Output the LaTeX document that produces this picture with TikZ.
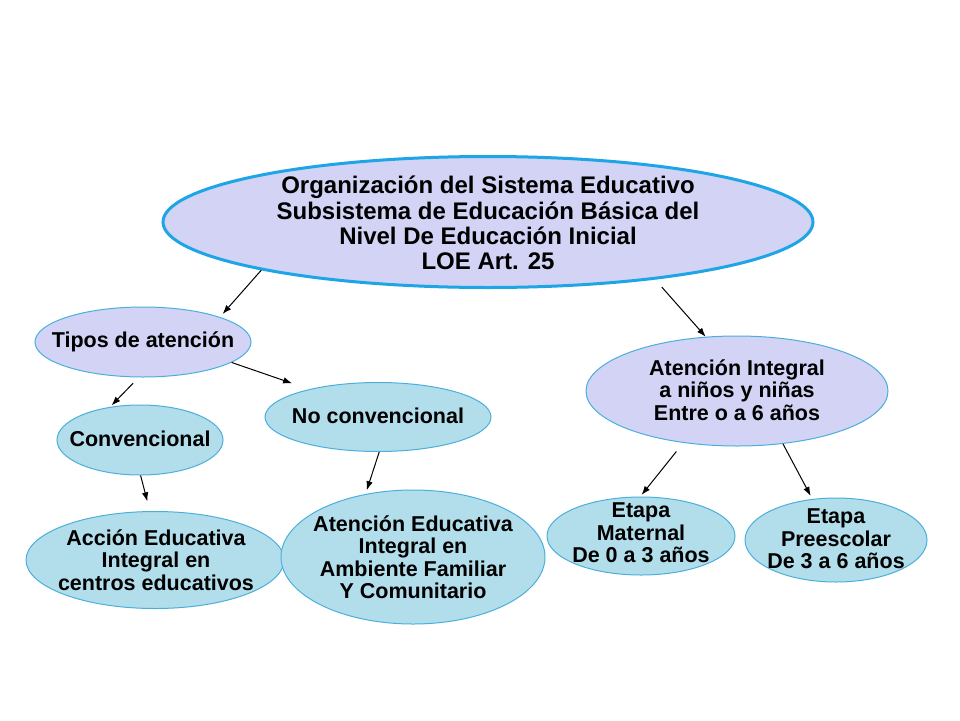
\documentclass[tikz,border=0pt]{standalone}
\usepackage{fontspec}
\setmainfont{Liberation Sans}
\usetikzlibrary{shapes.geometric,arrows.meta}
\definecolor{lav}{RGB}{210,211,245}
\definecolor{aqua}{RGB}{178,222,235}
\definecolor{bordA}{RGB}{30,165,230}
\definecolor{bordB}{RGB}{75,175,220}
\tikzset{
  ov/.style={ellipse,inner sep=0pt,draw=bordB,line width=1pt},
  lavov/.style={ov,fill=lav},
  aquaov/.style={ov,fill=aqua},
  txt/.style={inner sep=0pt,align=center,font=\bfseries\fontsize{21.5}{22.5}\selectfont},
  arr/.style={draw=black,line width=1pt,-{Latex[length=9pt,width=6.5pt]}}
}
\begin{document}
\begin{tikzpicture}[x=1pt,y=-1pt]
\fill[white] (0,0) rectangle (960,720);
\useasboundingbox (0,0) rectangle (960,720);

\node[lavov,draw=bordA,line width=3pt,minimum width=650pt,minimum height=131pt] (top) at (488,222) {};
\node[txt,font=\bfseries\fontsize{24}{25.3}\selectfont] (topT) at (488,223)
  {Organización del Sistema Educativo\\Subsistema de Educación Básica del\\Nivel De Educación Inicial\\LOE Art. 25};

\node[lavov,minimum width=216pt,minimum height=70pt] (tipos) at (143,342) {};
\node[txt] (tiposT) at (143,342) {Tipos de atención};

\node[aquaov,minimum width=166pt,minimum height=70pt] (conv) at (140,440) {};
\node[txt] (convT) at (140,439) {Convencional};

\node[aquaov,minimum width=226pt,minimum height=69pt] (noconv) at (378,417) {};
\node[txt] (noconvT) at (378,416) {No convencional};

\node[aquaov,minimum width=258pt,minimum height=97pt] (accion) at (155,560) {};
\node[txt] (accionT) at (156,560) {Acción Educativa\\Integral en\\centros educativos};

\node[aquaov,minimum width=264pt,minimum height=134pt] (atedu) at (413,557) {};
\node[txt] (ateduT) at (413,557) {Atención Educativa\\Integral en\\Ambiente Familiar\\Y Comunitario};

\node[lavov,minimum width=302pt,minimum height=110pt] (atint) at (737,391) {};
\node[txt] (atintT) at (737,390) {Atención Integral\\a niños y niñas\\Entre o a 6 años};

\node[aquaov,minimum width=188pt,minimum height=78pt] (mat) at (641,536) {};
\node[txt] (matT) at (641,533) {Etapa\\Maternal\\De 0 a 3 años};

\node[aquaov,minimum width=182pt,minimum height=84pt] (pre) at (836,540) {};
\node[txt] (preT) at (836,539) {Etapa\\Preescolar\\De 3 a 6 años};

\draw[arr,shorten >=4pt] (top.192) -- (tipos.18.6);
\draw[arr,shorten <=10pt] (top.341.8) -- (atint.120);
\draw[arr,shorten <=8pt,shorten >=2pt] (tipos.263.5) -- (conv.132.6);
\draw[arr,shorten >=18pt] (tipos.347.3) -- (noconv.158.9);
\draw[arr,shorten >=10pt] (conv.271.7) -- (accion.96.9);
\draw[arr,shorten >=4pt] (noconv.272) -- (atedu.127.6);
\draw[arr,shorten <=11pt,shorten >=2pt] (atint.224.2) -- (mat.91.5);
\draw[arr,shorten >=3.5pt] (atint.311.3) -- (pre.120.6);
\end{tikzpicture}
\end{document}
